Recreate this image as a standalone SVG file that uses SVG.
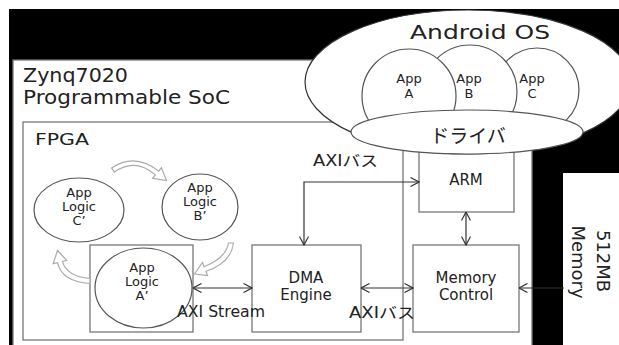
<svg xmlns="http://www.w3.org/2000/svg" width="619" height="345" viewBox="0 0 619 345">
<style>
.box{fill:#fff;stroke:#777;stroke-width:1.3}
.el{fill:#fff;stroke:#555;stroke-width:1.2}
.t{font-family:"DejaVu Sans","Noto Sans CJK JP",sans-serif;fill:#222}
.c{text-anchor:middle}
.s14{font-size:13px}
.s15{font-size:15px}
.ln{fill:none;stroke:#333;stroke-width:1.2}
.blk{fill:#fff;stroke:#aaa;stroke-width:1.2}
</style>
<defs>
<marker id="ah" viewBox="0 0 10 10" refX="9.5" refY="5" markerWidth="10" markerHeight="10" markerUnits="userSpaceOnUse" orient="auto-start-reverse">
<path d="M1,0.5 L9.5,5 L1,9.5" fill="none" stroke="#333" stroke-width="1.2"/>
</marker>
</defs>
<rect x="9" y="9" width="610" height="336" fill="#000"/>
<g id="zynq">
<rect class="box" x="13" y="60" width="519" height="295"/>
<text class="t" x="23" y="82" font-size="19.5" textLength="105" lengthAdjust="spacingAndGlyphs">Zynq7020</text>
<text class="t" x="23" y="104" font-size="19.5" textLength="207" lengthAdjust="spacingAndGlyphs">Programmable SoC</text>
</g>
<g id="fpga">
<rect class="box" x="23" y="122" width="380" height="218"/>
<text class="t" x="35" y="145" font-size="16" textLength="54" lengthAdjust="spacingAndGlyphs">FPGA</text>
</g>
<g id="memory">
<rect x="563" y="173" width="60" height="180" fill="#fff"/>
<g transform="translate(597,261) rotate(90)"><text class="t c" x="0" y="0" font-size="18">512MB</text></g>
<g transform="translate(572,262) rotate(90)"><text class="t c" x="0" y="0" font-size="18">Memory</text></g>
</g>
<g id="arm">
<rect class="box" x="419" y="140" width="95" height="72"/>
<text class="t c s15" x="466" y="185">ARM</text>
</g>
<g id="android">
<ellipse cx="468" cy="82" rx="163" ry="72" fill="#fff" stroke="#333" stroke-width="1.2"/>
<text class="t" x="410" y="39" font-size="20" textLength="140" lengthAdjust="spacingAndGlyphs">Android OS</text>
</g>
<g id="appC">
<circle class="el" cx="537" cy="90" r="42"/>
<text class="t c" x="532" y="83" font-size="13">App</text>
<text class="t c" x="532" y="98" font-size="13">C</text>
</g>
<g id="appB">
<circle class="el" cx="470" cy="92" r="47"/>
<text class="t c" x="469" y="83" font-size="13">App</text>
<text class="t c" x="469" y="98" font-size="13">B</text>
</g>
<g id="appA">
<circle class="el" cx="409" cy="96" r="47"/>
<text class="t c" x="409" y="83" font-size="13">App</text>
<text class="t c" x="409" y="98" font-size="13">A</text>
</g>
<g id="driver">
<ellipse class="el" cx="467" cy="132" rx="116" ry="22"/>
<text class="t c" x="468" y="143" font-size="19">ドライバ</text>
</g>
<g id="dma">
<rect class="box" x="252" y="245" width="109" height="87"/>
<text class="t c s15" x="306" y="283">DMA</text>
<text class="t c s15" x="306" y="300">Engine</text>
</g>
<g id="memctrl">
<rect class="box" x="413" y="245" width="106" height="87"/>
<text class="t c s15" x="466" y="283">Memory</text>
<text class="t c s15" x="466" y="300">Control</text>
</g>
<g id="logicA">
<rect class="box" x="90" y="245" width="103" height="87"/>
<ellipse class="el" cx="143.5" cy="288" rx="48.5" ry="40"/>
<text class="t c s14" x="142" y="272">App</text>
<text class="t c s14" x="142" y="286">Logic</text>
<text class="t c s14" x="142" y="300">A’</text>
</g>
<g id="logicB">
<ellipse class="el" cx="200" cy="207" rx="38" ry="33"/>
<text class="t c s14" x="200" y="192">App</text>
<text class="t c s14" x="200" y="206">Logic</text>
<text class="t c s14" x="200" y="220">B’</text>
</g>
<g id="logicC">
<ellipse class="el" cx="79" cy="210" rx="45" ry="32"/>
<text class="t c s14" x="79" y="197">App</text>
<text class="t c s14" x="79" y="211">Logic</text>
<text class="t c s14" x="79" y="225">C’</text>
</g>
<g id="connectors">
<path class="blk" d="M111.6 167.9 Q135 152.5 158.6 171.1 L161.4 167.6 L166.5 180.5 L152.6 178.4 L155.4 174.9 Q135 157.5 114.4 172.1 Z"/>
<path class="blk" d="M233.5 243 Q231 263 205.9 271.3 L207.5 275.5 L194.5 274 L202.5 262.5 L204.1 266.7 Q226 258 228.5 243 Z"/>
<path class="blk" d="M90 283.5 Q61.5 281.5 57.6 262.6 L53.2 263.6 L57.5 250.5 L66.8 260.4 L62.4 261.4 Q66.5 276.5 90 278.5 Z"/>
<path class="ln" d="M193 288 H252" marker-start="url(#ah)" marker-end="url(#ah)"/>
<path class="ln" d="M304 245 V182 H419" marker-start="url(#ah)" marker-end="url(#ah)"/>
<path class="ln" d="M361 288 H413" marker-start="url(#ah)" marker-end="url(#ah)"/>
<path class="ln" d="M466 212 V245" marker-start="url(#ah)" marker-end="url(#ah)"/>
<path class="ln" d="M564 288 H519" marker-end="url(#ah)"/>
<text class="t s15" x="313" y="166" textLength="65" lengthAdjust="spacingAndGlyphs">AXIバス</text>
<text class="t s15" x="349" y="318" textLength="66" lengthAdjust="spacingAndGlyphs">AXIバス</text>
<text class="t s15" x="177" y="317" textLength="88" lengthAdjust="spacingAndGlyphs">AXI Stream</text>
</g>
</svg>
